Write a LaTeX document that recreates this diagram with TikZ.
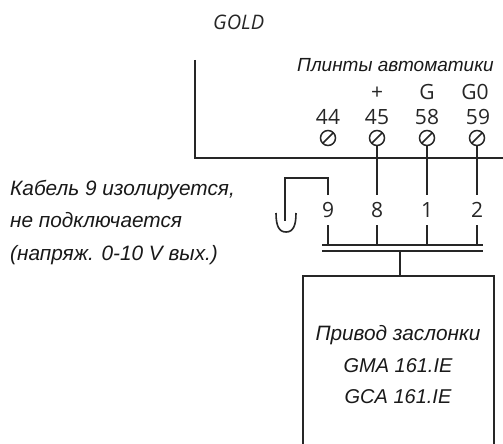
\documentclass[tikz,border=0pt]{standalone}
\usepackage{fontspec}
\setmainfont{Liberation Sans}
\newfontfamily\numfont{Open Sans}
\usetikzlibrary{positioning}
\tikzset{
  note/.style={font=\fontsize{20.8}{24}\selectfont\itshape, inner sep=0pt, text=black!90},
  num/.style={font=\fontsize{21}{24}\selectfont\numfont, inner sep=0pt, text=black!85, anchor=base},
  screw/.style={circle, draw, minimum size=15pt, inner sep=0pt, line width=1.5pt, black!85, path picture={\draw[line width=1.5pt] (path picture bounding box.south west) -- (path picture bounding box.north east);}},
  wire/.style={line width=1.6pt, black!85}
}
\begin{document}
\begin{tikzpicture}[x=1pt,y=-1pt]
\useasboundingbox (0,0) rectangle (503,444);

\node[anchor=base west, inner sep=0pt, text=black!85, font=\fontsize{20}{22}\selectfont\numfont\itshape] (gold) at (213,30) {GOLD};
\node[note, font=\fontsize{19}{22}\selectfont\itshape, anchor=base east] (title) at (494,71) {Плинты автоматики};

% terminals
\node[screw] (t44) at (328,138) {};
\node[screw] (t45) at (377,138) {};
\node[screw] (t58) at (427,138) {};
\node[screw] (t59) at (477,138) {};
\node[num] (n44) at (328,124) {44};
\node[num] (n45) at (377,124) {45};
\node[num] (n58) at (427,124) {58};
\node[num] (n59) at (478,124) {59};
\node[num] (plus) at (377,99) {+};
\node[num] (g) at (427,99) {G};
\node[num] (g0) at (475,99) {G0};

% housing
\coordinate (hstart) at (195,60);
\coordinate (hcorner) at (195,158);
\coordinate (hend) at (503,158);
\draw[wire] (hstart) -- (hcorner) -- (hend);

% cable numbers
\node[num] (c9) at (328,217) {9};
\node[num] (c8) at (377,217) {8};
\node[num] (c1) at (427,217) {1};
\node[num] (c2) at (477,217) {2};

\draw[wire] (t45) -- (377,195) coordinate (w8);
\draw[wire] (t58) -- (427,195) coordinate (w1);
\draw[wire] (t59) -- (477,195) coordinate (w2);

% bus bars
\coordinate (busa) at (322,245);
\coordinate (busb) at (483,245);
\coordinate (busc) at (322,251);
\coordinate (busd) at (483,251);
\draw[wire] (busa) -- (busb);
\draw[wire] (busc) -- (busd);
\foreach \x in {328,377,427,477}
  \draw[wire] (\x,225) -- (\x,245);

% isolated cable
\coordinate (w9) at (328,195);
\coordinate (hook) at (285,221);
\draw[wire] (w9) -- (328,178) -- (285,178) -- (hook);
\draw[wire] (276,213) .. controls (276,226) and (279,232) .. (286,232) .. controls (293,232) and (296,226) .. (296,213);

% actuator
\coordinate (stem) at (400,251);
\coordinate (boxtop) at (400,276);
\coordinate (boxa) at (303,444);
\coordinate (boxb) at (303,276);
\coordinate (boxc) at (494,276);
\coordinate (boxd) at (494,444);
\draw[wire] (stem) -- (boxtop);
\draw[wire] (boxa) -- (boxb) -- (boxc) -- (boxd);
\node[note, anchor=base] (act1) at (398,340) {Привод заслонки};
\node[note, anchor=base, font=\fontsize{20}{24}\selectfont\itshape] (act2) at (398,372) {GMA 161.IE};
\node[note, anchor=base, font=\fontsize{20}{24}\selectfont\itshape] (act3) at (398,403) {GCA 161.IE};

% left note
\node[note, anchor=base west] (left1) at (10,195) {Кабель 9 изолируется,};
\node[note, anchor=base west] (left2) at (10,227) {не подключается};
\node[note, anchor=base west] (left3) at (10,260) {(напряж.  0-10 V вых.)};
\end{tikzpicture}
\end{document}
